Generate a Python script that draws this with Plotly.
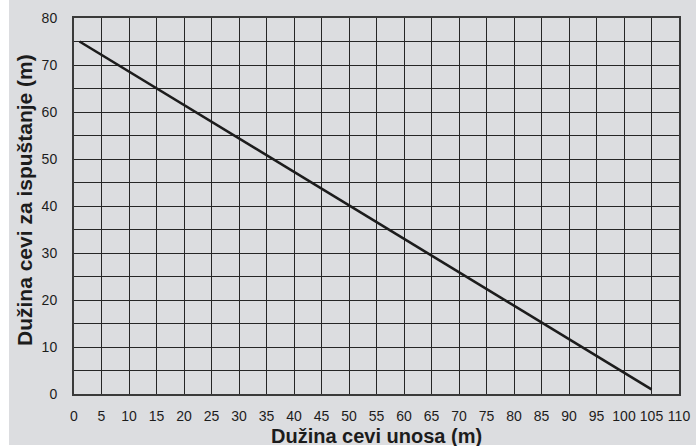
import plotly.graph_objects as go

# Data
intake_length = [1, 105]        # Dužina cevi unosa (m)
exhaust_length = [75, 1]        # Dužina cevi za ispuštanje (m)
x_tick_vals = list(range(0, 111, 5))
y_tick_vals = list(range(0, 81, 10))

BG = "#dcdde0"
INK = "#1c1c1c"
FONT = "Liberation Sans, Arial, sans-serif"

fig = go.Figure()
fig.add_trace(go.Scatter(
    x=intake_length, y=exhaust_length, mode="lines",
    line=dict(color=INK, width=2.6), showlegend=False, hoverinfo="skip"))

fig.update_layout(
    width=696, height=446,
    margin=dict(l=74, r=17, t=18, b=52, autoexpand=False),
    paper_bgcolor=BG, plot_bgcolor=BG,
    font=dict(family=FONT, size=14, color=INK),
    shapes=[dict(type="rect", xref="paper", yref="paper",
                 xsizemode="pixel", xanchor=0, x0=-80, x1=-65,
                 y0=-0.5, y1=1.5, fillcolor="white", line=dict(width=0),
                 layer="below"),
            dict(type="rect", xref="paper", yref="paper",
                 ysizemode="pixel", yanchor=0, y0=-52, y1=-51,
                 x0=-0.5, x1=1.5, fillcolor="white", line=dict(width=0),
                 layer="below")],
    annotations=[
        dict(text="<b>Dužina cevi unosa (m)</b>", xref="paper", yref="paper",
             x=0.5, y=0, xanchor="center", yanchor="middle", yshift=-42,
             showarrow=False, font=dict(family=FONT, size=20, color=INK)),
        dict(text="<b>Dužina cevi za ispuštanje (m)</b>", xref="paper", yref="paper",
             x=0, y=0.5, xanchor="center", yanchor="middle", xshift=-50, yshift=6,
             textangle=-90, showarrow=False,
             font=dict(family=FONT, size=21, color=INK)),
    ],
)

fig.update_xaxes(
    range=[0, 110], tickvals=x_tick_vals, ticktext=[str(v) for v in x_tick_vals],
    showgrid=True, gridcolor="#262626", gridwidth=1.3,
    showline=True, linecolor="#3a3a3a", linewidth=2, mirror=True,
    ticks="", ticklabelstandoff=8, zeroline=False, fixedrange=True,
    automargin=False, tickfont=dict(size=14, color=INK))
fig.update_yaxes(
    range=[0, 80], tickvals=y_tick_vals, ticktext=[str(v) for v in y_tick_vals],
    showgrid=True, gridcolor="#262626", gridwidth=1.3,
    minor=dict(dtick=5, tick0=0, showgrid=True, gridcolor="#262626", gridwidth=1.3),
    showline=True, linecolor="#3a3a3a", linewidth=2, mirror=True,
    ticks="", ticklabelstandoff=12, zeroline=False, fixedrange=True,
    automargin=False, tickfont=dict(size=14, color=INK))

fig.write_html("out.html", config={"displayModeBar": False},
               post_script="document.body.style.margin='0';document.body.style.overflow='hidden';")
